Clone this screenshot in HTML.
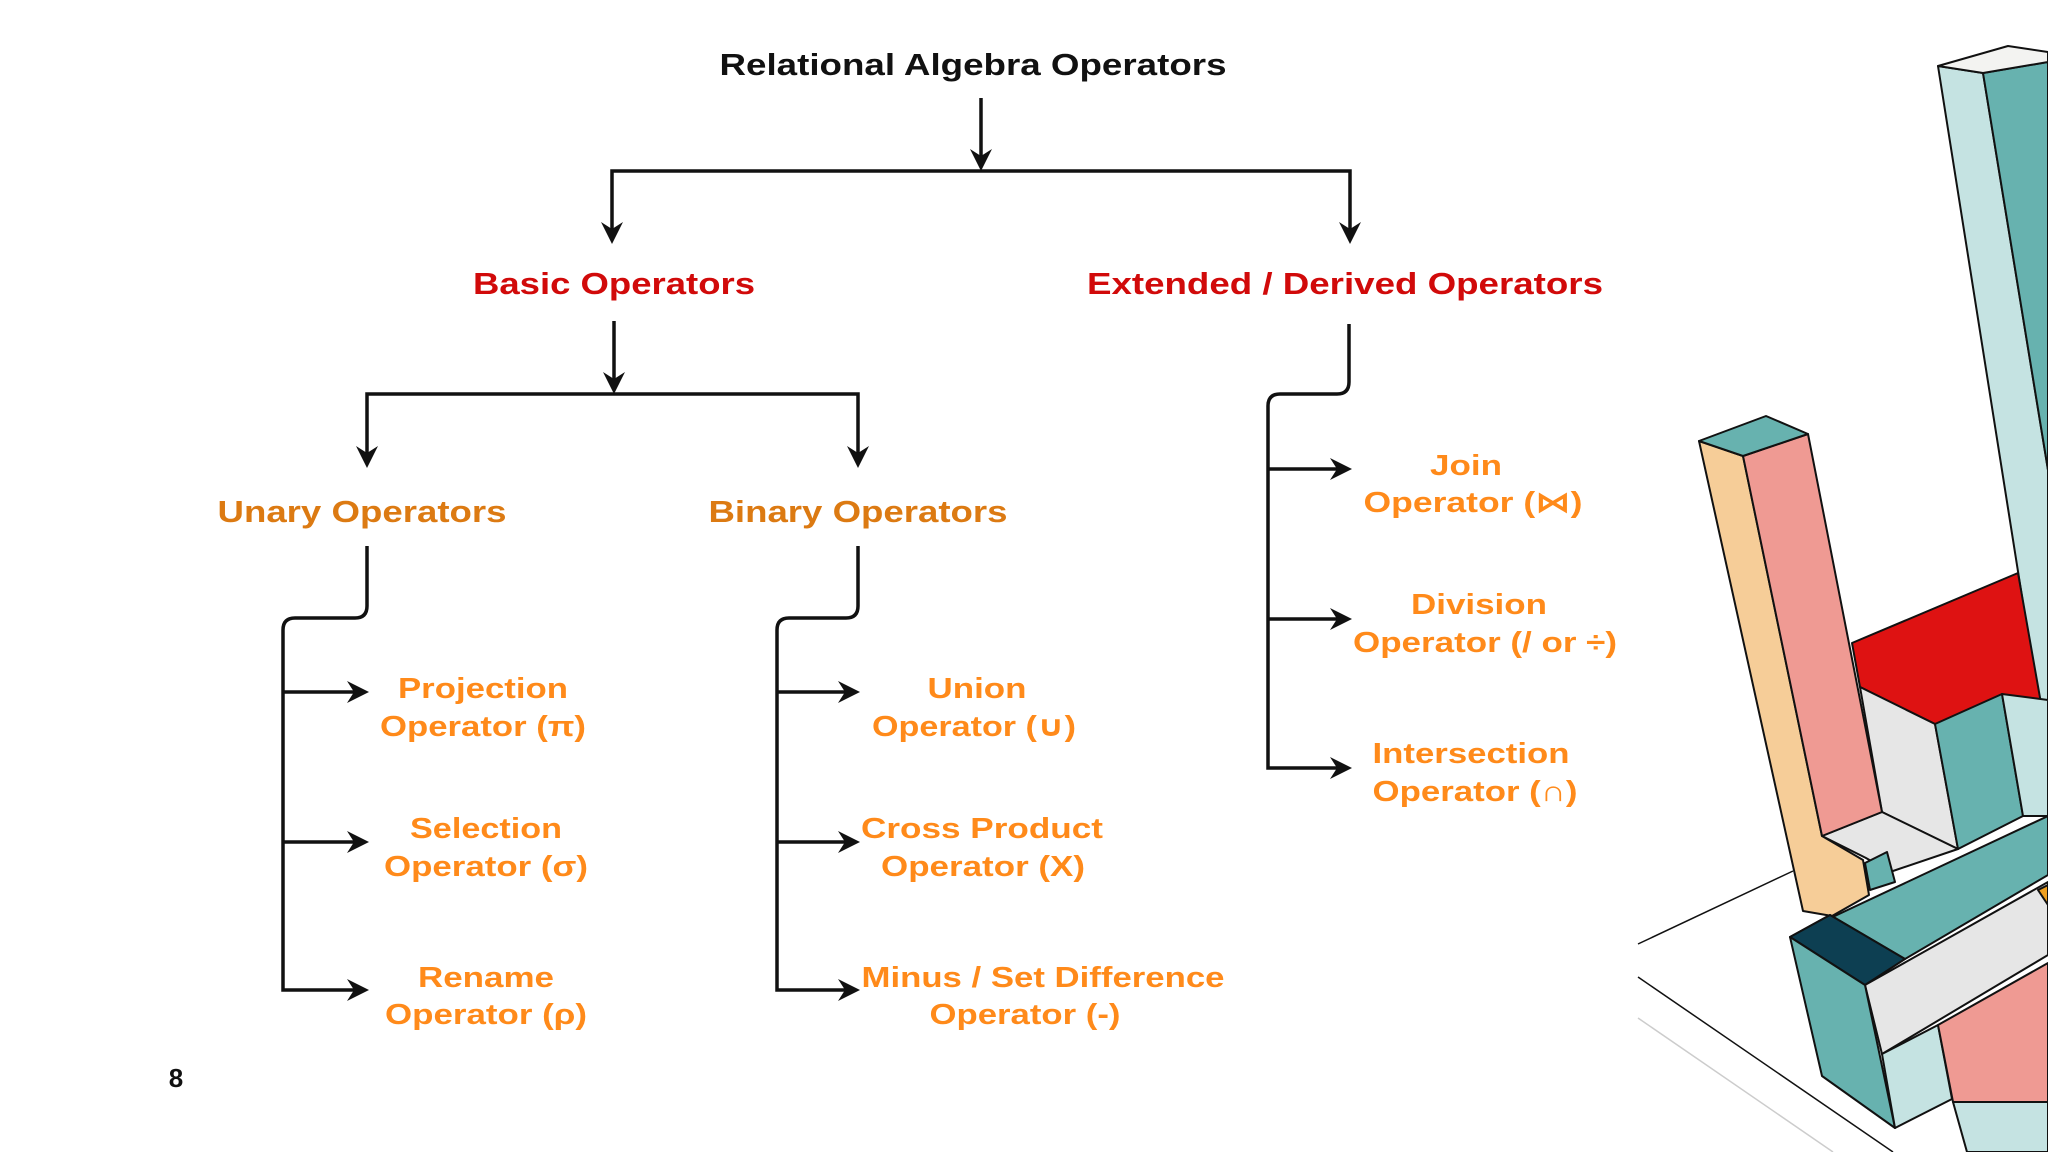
<!DOCTYPE html>
<html><head><meta charset="utf-8"><style>html,body{margin:0;padding:0;background:#fff;}svg{display:block}</style></head>
<body>
<svg width="2048" height="1152" viewBox="0 0 2048 1152" xmlns="http://www.w3.org/2000/svg">
<defs>
<marker id="a" markerWidth="10" markerHeight="10" refX="9" refY="5" orient="auto" markerUnits="userSpaceOnUse" viewBox="0 0 10 10">
</marker>
</defs>
<g stroke="#111" stroke-width="3.5" fill="none">
<path d="M981 98V164"/>
<path d="M612 236V171H1350V236"/>
<path d="M614 321V386"/>
<path d="M367 460V394H858V460"/>
<path d="M367 546V606Q367 618 355 618H295Q283 618 283 630V990H358"/>
<path d="M283 692H358M283 842H358"/>
<path d="M858 546V606Q858 618 846 618H789Q777 618 777 630V990H850"/>
<path d="M777 692H850M777 842H850"/>
<path d="M1349 324V382Q1349 394 1337 394H1280Q1268 394 1268 406V768H1342"/>
<path d="M1268 469H1342M1268 619H1342"/>
</g>
<g fill="#111">
<path d="M981 171l-11-22 11 7 11-7z"/>
<path d="M612 244l-11-22 11 7 11-7z"/>
<path d="M1350 244l-11-22 11 7 11-7z"/>
<path d="M614 394l-11-22 11 7 11-7z"/>
<path d="M367 468l-11-22 11 7 11-7z"/>
<path d="M858 468l-11-22 11 7 11-7z"/>
<path d="M369 692l-22-11 7 11-7 11z"/>
<path d="M369 842l-22-11 7 11-7 11z"/>
<path d="M369 990l-22-11 7 11-7 11z"/>
<path d="M860 692l-22-11 7 11-7 11z"/>
<path d="M860 842l-22-11 7 11-7 11z"/>
<path d="M860 990l-22-11 7 11-7 11z"/>
<path d="M1352 469l-22-11 7 11-7 11z"/>
<path d="M1352 619l-22-11 7 11-7 11z"/>
<path d="M1352 768l-22-11 7 11-7 11z"/>
</g>
<g font-family="Liberation Sans, DejaVu Sans, sans-serif" font-weight="bold" text-anchor="middle" lengthAdjust="spacingAndGlyphs">
<text x="973" y="75" font-size="31" fill="#111" textLength="507" lengthAdjust="spacingAndGlyphs">Relational Algebra Operators</text>
<g fill="#d10a0a" font-size="31">
<text x="614" y="294" textLength="282" lengthAdjust="spacingAndGlyphs">Basic Operators</text>
<text x="1345" y="294" textLength="516" lengthAdjust="spacingAndGlyphs">Extended / Derived Operators</text>
</g>
<g fill="#dc7a12" font-size="31">
<text x="362" y="522" textLength="289" lengthAdjust="spacingAndGlyphs">Unary Operators</text>
<text x="858" y="522" textLength="299" lengthAdjust="spacingAndGlyphs">Binary Operators</text>
</g>
<g fill="#ff8a1a" font-size="29">
<text x="483" y="698" textLength="170" lengthAdjust="spacingAndGlyphs">Projection</text>
<text x="483" y="736" textLength="206" lengthAdjust="spacingAndGlyphs">Operator (π)</text>
<text x="486" y="838" textLength="152" lengthAdjust="spacingAndGlyphs">Selection</text>
<text x="486" y="876" textLength="204" lengthAdjust="spacingAndGlyphs">Operator (σ)</text>
<text x="486" y="987" textLength="136" lengthAdjust="spacingAndGlyphs">Rename</text>
<text x="486" y="1024" textLength="202" lengthAdjust="spacingAndGlyphs">Operator (ρ)</text>
<text x="977" y="698" textLength="99" lengthAdjust="spacingAndGlyphs">Union</text>
<text x="974" y="736" textLength="204" lengthAdjust="spacingAndGlyphs">Operator (∪)</text>
<text x="982" y="838" textLength="242" lengthAdjust="spacingAndGlyphs">Cross Product</text>
<text x="983" y="876" textLength="204" lengthAdjust="spacingAndGlyphs">Operator (X)</text>
<text x="1043" y="987" textLength="363" lengthAdjust="spacingAndGlyphs">Minus / Set Difference</text>
<text x="1025" y="1024" textLength="191" lengthAdjust="spacingAndGlyphs">Operator (-)</text>
<text x="1466" y="475" textLength="72" lengthAdjust="spacingAndGlyphs">Join</text>
<text x="1473" y="512" textLength="219" lengthAdjust="spacingAndGlyphs">Operator (⋈)</text>
<text x="1479" y="614" textLength="136" lengthAdjust="spacingAndGlyphs">Division</text>
<text x="1485" y="652" textLength="264" lengthAdjust="spacingAndGlyphs">Operator (/ or ÷)</text>
<text x="1471" y="763" textLength="197" lengthAdjust="spacingAndGlyphs">Intersection</text>
<text x="1475" y="801" textLength="205" lengthAdjust="spacingAndGlyphs">Operator (∩)</text>
</g>
<text x="176" y="1087" font-size="26" fill="#111">8</text>
</g>
<g stroke="#111" stroke-width="2" stroke-linejoin="round">
<path d="M1638 944L1793 871" fill="none" stroke-width="1.5"/>
<path d="M1638 977L1893 1152" fill="none" stroke-width="1.5"/>
<path d="M1638 1018L1833 1152" fill="none" stroke="#ccc" stroke-width="1.5"/>
<polygon points="1938,66 1983,73 2048,470 2048,761" fill="#c5e3e2"/>
<polygon points="1983,73 2048,62 2048,470" fill="#67b2af"/>
<polygon points="1938,66 2008,46 2048,52 2048,62 1983,73" fill="#f3f3f1"/>
<polygon points="1852,643 2018,573 2042,709 1935,724 1860,687" fill="#de1212"/>
<polygon points="1860,687 1935,724 1958,849 1882,812" fill="#e6e6e6"/>
<polygon points="1935,724 2002,694 2023,816 1958,849" fill="#67b2af"/>
<polygon points="2002,694 2048,700 2048,816 2023,816" fill="#c5e3e2"/>
<polygon points="1822,836 1882,812 1958,849 1890,872 1866,858" fill="#e6e6e6"/>
<polygon points="1699,441 1743,456 1822,836 1863,860 1869,895 1832,916 1803,911" fill="#f6cd98"/>
<polygon points="1743,456 1808,434 1882,812 1822,836" fill="#ef9a93"/>
<polygon points="1699,441 1766,416 1808,434 1743,456" fill="#67b2af"/>
<polygon points="1865,863 1887,852 1895,882 1870,890" fill="#67b2af"/>
<polygon points="1790,937 2048,816 2048,875 1905,959 1830,915" fill="#67b2af"/>
<polygon points="1790,937 1830,915 1905,959 1865,985" fill="#0d3f52"/>
<polygon points="1865,985 2048,882 2048,955 1882,1054" fill="#e6e6e6"/>
<polygon points="1790,937 1865,985 1895,1128 1822,1076" fill="#67b2af"/>
<polygon points="1882,1054 1938,1025 1952,1099 1895,1128" fill="#c5e3e2"/>
<polygon points="1938,1025 2048,963 2048,1102 1953,1102" fill="#ef9a93"/>
<polygon points="1953,1102 2048,1102 2048,1152 1967,1152" fill="#c5e3e2"/>
<polygon points="2038,890 2048,885 2048,905" fill="#f0a020"/>
</g>
</svg>
</body></html>
